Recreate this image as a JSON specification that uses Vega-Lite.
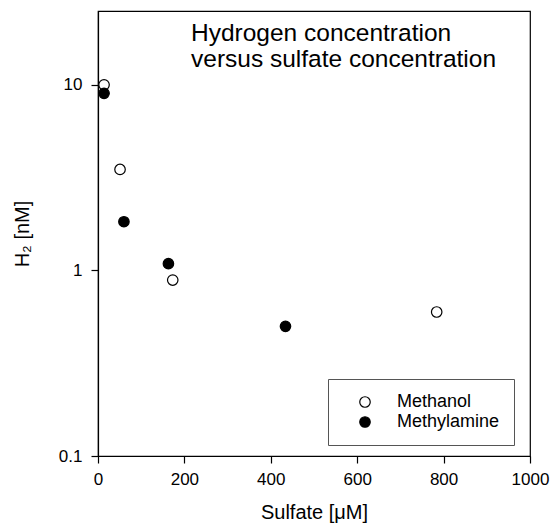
{
  "$schema": "https://vega.github.io/schema/vega-lite/v6.json",
  "width": 432,
  "height": 445,
  "autosize": {"type": "none"},
  "padding": {"left": 98, "top": 11, "right": 21, "bottom": 70},
  "background": "white",
  "config": {
    "font": "Liberation Sans",
    "view": {"stroke": "black", "strokeWidth": 1.2},
    "axis": {
      "grid": false,
      "domainColor": "black",
      "domainWidth": 1.2,
      "tickColor": "black",
      "tickWidth": 1.2,
      "tickSize": 7,
      "labelColor": "black",
      "titleColor": "black",
      "labelFontSize": 17,
      "titleFontSize": 20,
      "titleFontWeight": "normal",
      "labelFlush": false,
      "labelOverlap": false
    }
  },
  "title": {
    "text": ["Hydrogen concentration", "versus sulfate concentration"],
    "anchor": "start",
    "frame": "group",
    "orient": "top",
    "fontSize": 24.5,
    "fontWeight": "normal",
    "font": "Liberation Sans",
    "color": "black",
    "lineHeight": 26,
    "baseline": "alphabetic",
    "offset": 0,
    "dx": 93,
    "dy": 80
  },
  "data": {
    "values": [
      {"sulfate": 14, "h2": 10, "substrate": "Methanol"},
      {"sulfate": 51, "h2": 3.5, "substrate": "Methanol"},
      {"sulfate": 173, "h2": 0.887, "substrate": "Methanol"},
      {"sulfate": 784, "h2": 0.597, "substrate": "Methanol"},
      {"sulfate": 14, "h2": 9.0, "substrate": "Methylamine"},
      {"sulfate": 60, "h2": 1.83, "substrate": "Methylamine"},
      {"sulfate": 163, "h2": 1.087, "substrate": "Methylamine"},
      {"sulfate": 434, "h2": 0.5, "substrate": "Methylamine"}
    ]
  },
  "mark": {"type": "point", "shape": "circle", "size": 110, "stroke": "black", "strokeWidth": 1.2, "opacity": 1},
  "encoding": {
    "x": {
      "field": "sulfate",
      "type": "quantitative",
      "scale": {"domain": [0, 1000], "nice": false, "zero": false},
      "axis": {"values": [0, 200, 400, 600, 800, 1000], "format": "d", "title": "Sulfate [μM]", "labelPadding": 8, "titlePadding": 15}
    },
    "y": {
      "field": "h2",
      "type": "quantitative",
      "scale": {"type": "log", "domain": [0.1, 25], "nice": false},
      "axis": {"values": [0.1, 1, 10], "format": "~g", "title": "H₂ [nM]", "labelPadding": 9, "titlePadding": 26}
    },
    "fill": {
      "field": "substrate",
      "type": "nominal",
      "scale": {"domain": ["Methanol", "Methylamine"], "range": ["white", "black"]},
      "legend": {
        "orient": "none",
        "legendX": 230,
        "legendY": 368,
        "title": null,
        "padding": 14,
        "strokeColor": "#555555",
        "fillColor": "white",
        "symbolType": "circle",
        "symbolSize": 110,
        "symbolStrokeColor": "black",
        "symbolStrokeWidth": 1.2,
        "symbolOffset": 14,
        "labelOffset": 23,
        "labelFontSize": 18,
        "labelColor": "black",
        "rowPadding": 2
      }
    }
  }
}
